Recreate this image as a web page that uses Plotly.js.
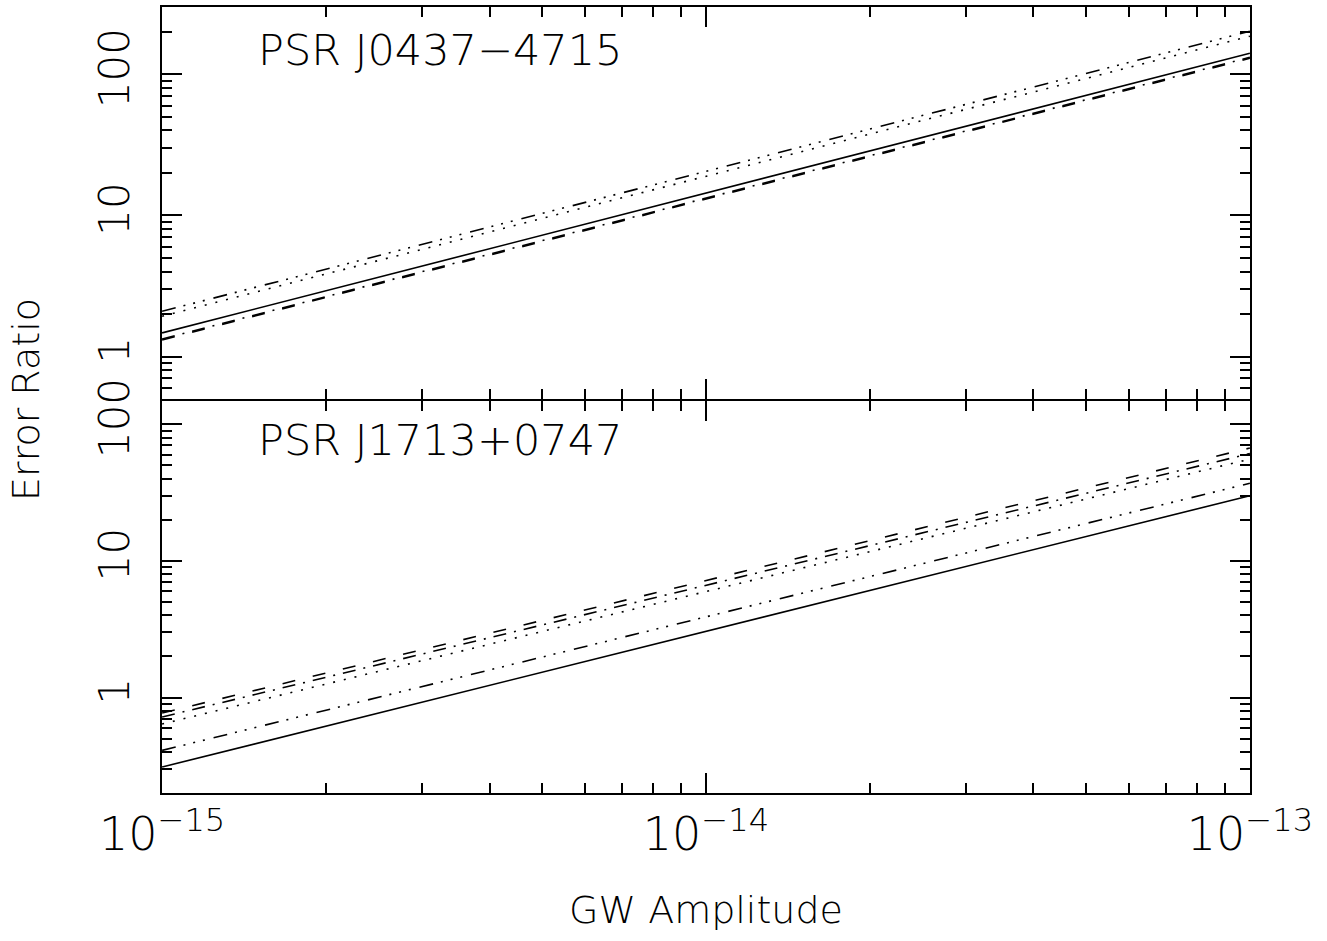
<!DOCTYPE html>
<html>
<head>
<meta charset="utf-8">
<script src="https://cdn.plot.ly/plotly-3.0.1.min.js"></script>
<style>
  html, body { margin: 0; padding: 0; background: #fff; }
  #chart { width: 1327px; height: 941px; }
</style>
</head>
<body>
<div id="chart"></div>
<script>
// GW amplitude (x) at the two ends of each line
const amplitude = [1e-15, 1e-13];

// PSR J0437-4715 (top panel) error ratios
const j0437Solid = [1.47, 141];
const j0437Dotted = [1.93, 186];
const j0437DashDot3 = [2.09, 202];
const j0437Dashed = [1.31, 130];
const j0437DashDot = [1.33, 132];

// PSR J1713+0747 (bottom panel) error ratios
const j1713Dashed = [0.77, 67];
const j1713DashDot = [0.72, 61];
const j1713Dotted = [0.64, 55.6];
const j1713DashDot3 = [0.41, 37];
const j1713Solid = [0.31, 30];

const panelLabels = ["PSR J0437\u22124715", "PSR J1713+0747"];
const yTickVals = [1, 10, 100];
const yTickText = ["1", "10", "100"];
const xTickVals = [1e-15, 1e-14, 1e-13];
const xTickText = ["10<sup>\u221215</sup>", "10<sup>\u221214</sup>", "10<sup>\u221213</sup>"];

const FONT = "DejaVu Sans, Liberation Sans, sans-serif";
const DASH = {
  solid: "solid",
  dotted: "2px,9px",
  dashed: "13px,18px",
  dashdot: "13px,8px,2px,8px",
  dashdot3: "14px,8px,2px,8px,2px,8px,2px,9px"
};

function line(y, dash, yaxis) {
  return {
    x: amplitude, y: y, type: "scatter", mode: "lines",
    xaxis: yaxis === "y2" ? "x2" : "x", yaxis: yaxis,
    line: { color: "#000", width: 1.6, dash: DASH[dash] },
    showlegend: false, hoverinfo: "skip"
  };
}

const data = [
  line(j0437Solid, "solid", "y2"),
  line(j0437Dotted, "dotted", "y2"),
  line(j0437DashDot3, "dashdot3", "y2"),
  line(j0437Dashed, "dashed", "y2"),
  line(j0437DashDot, "dashdot", "y2"),
  line(j1713Dashed, "dashed", "y"),
  line(j1713DashDot, "dashdot", "y"),
  line(j1713Dotted, "dotted", "y"),
  line(j1713DashDot3, "dashdot3", "y"),
  line(j1713Solid, "solid", "y")
];

const commonAxis = {
  showline: true, linecolor: "#000", linewidth: 2, mirror: "allticks",
  ticks: "inside", ticklen: 20, tickwidth: 2, tickcolor: "#000",
  showgrid: false, zeroline: false,
  minor: { ticks: "inside", ticklen: 10, tickwidth: 2, tickcolor: "#000", dtick: "D1", showgrid: false }
};

const xBase = Object.assign({}, commonAxis, {
  type: "log", range: [-15.0002, -12.9998], tickvals: xTickVals, ticktext: xTickText,
  tickfont: { family: FONT, size: 46, color: "#000", weight: 200 }
});

const layout = {
  width: 1327, height: 941,
  margin: { l: 162, r: 77, t: 7, b: 148 },
  paper_bgcolor: "#fff", plot_bgcolor: "#fff",
  showlegend: false,
  xaxis: Object.assign({}, xBase, {
    anchor: "y",
    title: { text: "GW Amplitude", font: { family: FONT, size: 38, color: "#000", weight: 200 }, standoff: 36 }
  }),
  xaxis2: Object.assign({}, xBase, { anchor: "y2", matches: "x", showticklabels: false }),
  yaxis: Object.assign({}, commonAxis, {
    type: "log", domain: [0, 0.4987], range: [Math.log10(0.2), Math.log10(148)],
    tickvals: yTickVals, ticktext: yTickText, tickangle: -90, ticklabelstandoff: 14,
    tickfont: { family: FONT, size: 42, color: "#000", weight: 200 }
  }),
  yaxis2: Object.assign({}, commonAxis, {
    type: "log", domain: [0.5013, 1], range: [Math.log10(0.5), Math.log10(300)],
    tickvals: yTickVals, ticktext: yTickText, tickangle: -90, ticklabelstandoff: 14,
    tickfont: { family: FONT, size: 42, color: "#000", weight: 200 }
  }),
  annotations: [
    { text: panelLabels[0], xref: "paper", yref: "paper", x: 0.086, y: 0.945,
      xanchor: "left", yanchor: "middle", showarrow: false,
      font: { family: FONT, size: 43, color: "#000", weight: 200 } },
    { text: panelLabels[1], xref: "paper", yref: "paper", x: 0.086, y: 0.449,
      xanchor: "left", yanchor: "middle", showarrow: false,
      font: { family: FONT, size: 43, color: "#000", weight: 200 } },
    { text: "Error Ratio", xref: "paper", yref: "paper", x: -0.125, y: 0.5,
      xanchor: "center", yanchor: "middle", textangle: -90, showarrow: false,
      font: { family: FONT, size: 38, color: "#000", weight: 200 } }
  ]
};

Plotly.newPlot("chart", data, layout, { staticPlot: true, displayModeBar: false });
</script>
</body>
</html>
